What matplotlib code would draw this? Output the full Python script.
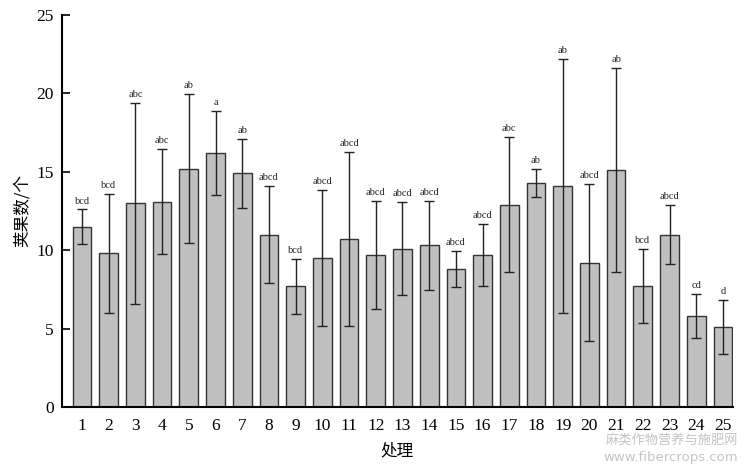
import numpy as np
import matplotlib.pyplot as plt

plt.rcParams['font.family'] = ['Liberation Serif', 'Noto Sans CJK SC']

# datos
trat = np.arange(1, 26)
media = [11.5, 9.8, 13.0, 13.1, 15.2, 16.2, 14.9, 11.0, 7.7, 9.5,
         10.7, 9.7, 10.1, 10.3, 8.8, 9.7, 12.9, 14.3, 14.1, 9.2,
         15.1, 7.7, 11.0, 5.8, 5.1]
error = [1.1, 3.8, 6.4, 3.35, 4.75, 2.7, 2.2, 3.1, 1.75, 4.35,
         5.55, 3.45, 2.95, 2.85, 1.15, 2.0, 4.3, 0.9, 8.1, 5.0,
         6.5, 2.35, 1.9, 1.4, 1.7]
letras = ['bcd', 'bcd', 'abc', 'abc', 'ab', 'a', 'ab', 'abcd', 'bcd', 'abcd',
          'abcd', 'abcd', 'abcd', 'abcd', 'abcd', 'abcd', 'abc', 'ab', 'ab', 'abcd',
          'ab', 'bcd', 'abcd', 'cd', 'd']

fig = plt.figure(figsize=(7.47, 4.68), dpi=100)
ax = fig.add_axes([0.083, 0.1303, 0.898, 0.8377])

ax.bar(trat, media, width=0.7, color='#c0c0c0', edgecolor='#333333', linewidth=1.0)
ax.errorbar(trat, media, yerr=error, fmt='none', ecolor='#222222',
            elinewidth=1.0, capsize=3.5, capthick=1.0)

for i in range(len(trat)):
    ax.text(trat[i], media[i] + error[i] + 0.25, letras[i],
            ha='center', va='bottom', fontsize=7.5, color='#222222')

ax.set_xlim(0.25, 25.37)
ax.set_ylim(0, 25)
ax.set_yticks([0, 5, 10, 15, 20, 25])
ax.set_xticks(trat)
ax.tick_params(axis='y', direction='in', length=6, width=1.2, labelsize=12.5, pad=6)
ax.tick_params(axis='x', length=0, labelsize=12.5, pad=8)
ax.spines['top'].set_visible(False)
ax.spines['right'].set_visible(False)
ax.spines['left'].set_linewidth(1.5)
ax.spines['bottom'].set_linewidth(1.5)

ax.set_ylabel('荚果数/个', family=['Noto Sans CJK SC'], fontsize=12, labelpad=4)
ax.set_xlabel('处理', family=['Noto Sans CJK SC'], fontsize=12, labelpad=6)

# marca de agua
fig.text(0.988, 0.045, '麻类作物营养与施肥网', family=['Noto Sans CJK SC'],
         fontsize=9.5, color='#c4c4c4', ha='right', va='bottom')
fig.text(0.988, 0.008, 'www.fibercrops.com', family=['DejaVu Sans'],
         fontsize=9.5, color='#c4c4c4', ha='right', va='bottom')

plt.savefig('out.png', dpi=100)
